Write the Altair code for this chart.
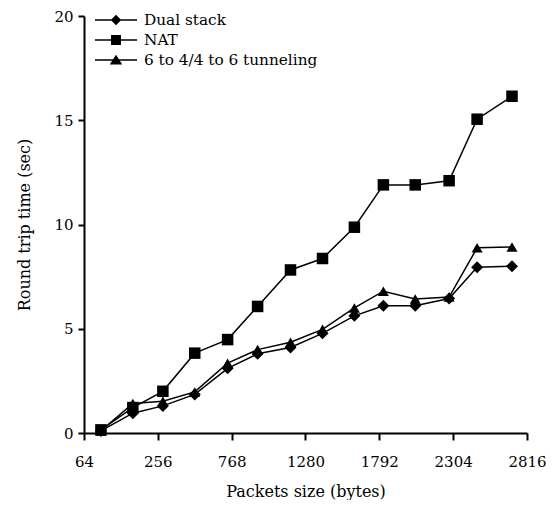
import altair as alt
import pandas as pd

# Data
packet_sizes = [108, 191, 291, 512, 740, 948, 1176, 1398, 1619, 1820, 2041, 2276, 2470, 2712]
dual_stack = [0.1, 0.95, 1.3, 1.85, 3.1, 3.8, 4.1, 4.78, 5.62, 6.1, 6.1, 6.45, 7.95, 8.0]
nat = [0.15, 1.22, 2.0, 3.83, 4.48, 6.07, 7.82, 8.37, 9.87, 11.9, 11.9, 12.1, 15.05, 16.15]
tunneling = [0.1, 1.42, 1.52, 1.97, 3.35, 4.0, 4.35, 4.97, 6.0, 6.8, 6.43, 6.52, 8.88, 8.92]
series_names = ["Dual stack", "NAT", "6 to 4/4 to 6 tunneling"]
x_ticks = [64, 256, 768, 1280, 1792, 2304, 2816]
y_ticks = [0, 5, 10, 15, 20]

rows = []
for name, vals in zip(series_names, [dual_stack, nat, tunneling]):
    for s, v in zip(packet_sizes, vals):
        rows.append({"size": s, "rtt": v, "series": name})
df = pd.DataFrame(rows)

FONT = "DejaVu Serif"
W, H = 443, 417

# legend symbols: thin bar (line) plus marker, unit = half symbol size
legend_paths = [
    "M-2,-0.07H2V0.07H-2ZM0,-0.5L0.5,0L0,0.5L-0.5,0Z",
    "M-2,-0.07H2V0.07H-2ZM-0.47,-0.47H0.47V0.47H-0.47Z",
    "M-2,-0.07H2V0.07H-2ZM0,-0.5L0.6,0.42L-0.6,0.42Z",
]

base = alt.Chart(df).encode(
    x=alt.X(
        "size:Q",
        scale=alt.Scale(domain=[64, 256, 2816], range=[0, 73.83, W]),
        axis=alt.Axis(
            values=x_ticks, format="d", title="Packets size (bytes)", tickSize=7,
            labelBaseline="alphabetic", labelPadding=26, labelFlush=False,
            labelOverlap=False, titleBaseline="alphabetic", titleY=63,
        ),
    ),
    y=alt.Y(
        "rtt:Q",
        scale=alt.Scale(domain=[0, 20]),
        axis=alt.Axis(
            values=y_ticks, title="Round trip time (sec)", tickSize=6,
            labelPadding=5, labelFlush=False, titleBaseline="alphabetic",
            titleX=-55,
        ),
    ),
)

lines = base.mark_line(color="black", strokeWidth=1.5).encode(detail="series:N")

points = base.mark_point(filled=True, color="black", opacity=1).encode(
    shape=alt.Shape(
        "series:N",
        scale=alt.Scale(domain=series_names, range=["diamond", "square", "triangle-up"]),
        legend=None,
    ),
    size=alt.Size(
        "series:N",
        scale=alt.Scale(domain=series_names, range=[144, 121, 135]),
        legend=None,
    ),
)

legend_layer = base.mark_point(filled=True, color="black", opacity=0, size=441).encode(
    shape=alt.Shape(
        "series:N",
        scale=alt.Scale(domain=series_names, range=legend_paths),
        legend=alt.Legend(
            title=None, orient="none", legendX=21.5, legendY=-6.5,
            labelFont=FONT, labelFontSize=15.3, labelColor="black", labelLimit=400,
            labelOffset=17.5, rowPadding=1, padding=0, symbolSize=441,
            symbolStrokeWidth=0, symbolFillColor="black", symbolOpacity=1,
        ),
    )
)

chart = (
    alt.layer(lines, points, legend_layer)
    .resolve_scale(shape="independent")
    .properties(
        width=W, height=H,
        autosize=alt.AutoSizeParams(type="none"),
        padding={"left": 76, "top": 8, "right": 19, "bottom": 67},
    )
    .configure_view(stroke=None)
    .configure_axis(
        grid=False, domainColor="black", domainWidth=2, tickColor="black",
        tickWidth=2, labelFont=FONT, labelFontSize=15, labelColor="black",
        titleFont=FONT, titleFontSize=16, titleFontWeight="normal",
        titleColor="black",
    )
    .configure_legend(labelFont=FONT)
)

chart.save("out.html", embed_options={"renderer": "svg", "actions": False})
